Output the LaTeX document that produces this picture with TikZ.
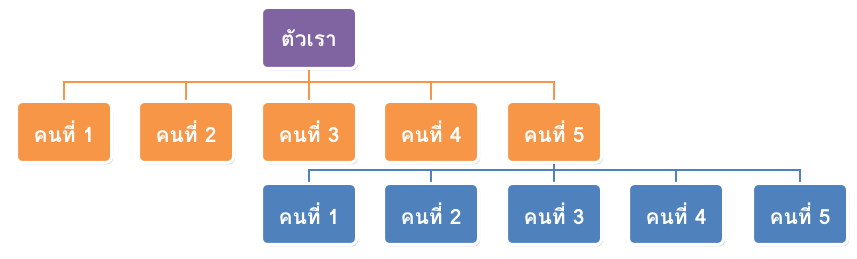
\documentclass[tikz,border=0pt]{standalone}
\usepackage{fontspec}
\newfontfamily\thaifont[Script=Thai]{Loma}
\usetikzlibrary{shadows}
\definecolor{cpurple}{HTML}{8064A2}
\definecolor{corange}{HTML}{F79646}
\definecolor{cblue}{HTML}{4F81BD}
\tikzset{
  box/.style={rounded corners=6pt, draw=white, line width=3pt, minimum width=95pt, minimum height=61pt,
     text=white, font=\thaifont\bfseries\fontsize{21}{24}\selectfont, inner sep=0pt,
     drop shadow={opacity=0.3, shadow xshift=1.5pt, shadow yshift=-2pt}},
  topbox/.style={box, fill=cpurple},
  obox/.style={box, fill=corange},
  bbox/.style={box, fill=cblue},
  oline/.style={draw=corange, line width=2.5pt},
  bline/.style={draw=cblue, line width=2.5pt},
}
\begin{document}
\begin{tikzpicture}[x=1pt,y=1pt]
\useasboundingbox (0,0) rectangle (857,259);
\coordinate (obus) at (0,177);
\coordinate (bbus) at (0,89);
% positions
\path (309,221) coordinate (ptop);
\foreach \i/\x in {1/64,2/186,3/309,4/431,5/554} { \coordinate (po\i) at (\x,127); }
\foreach \i/\x in {1/309,2/431,3/554,4/676,5/800} { \coordinate (pb\i) at (\x,45); }
% connectors first
\foreach \i in {1,...,5} {
  \draw[oline] (ptop) |- (obus -| po\i) -- (po\i);
  \draw[bline] (po5) |- (bbus -| pb\i) -- (pb\i);
}
\node[topbox] (top) at (ptop) {ตัวเรา};
\foreach \i in {1,...,5} {
  \node[obox] (o\i) at (po\i) {คนที่ \i};
  \node[bbox] (b\i) at (pb\i) {คนที่ \i};
}
\end{tikzpicture}
\end{document}
